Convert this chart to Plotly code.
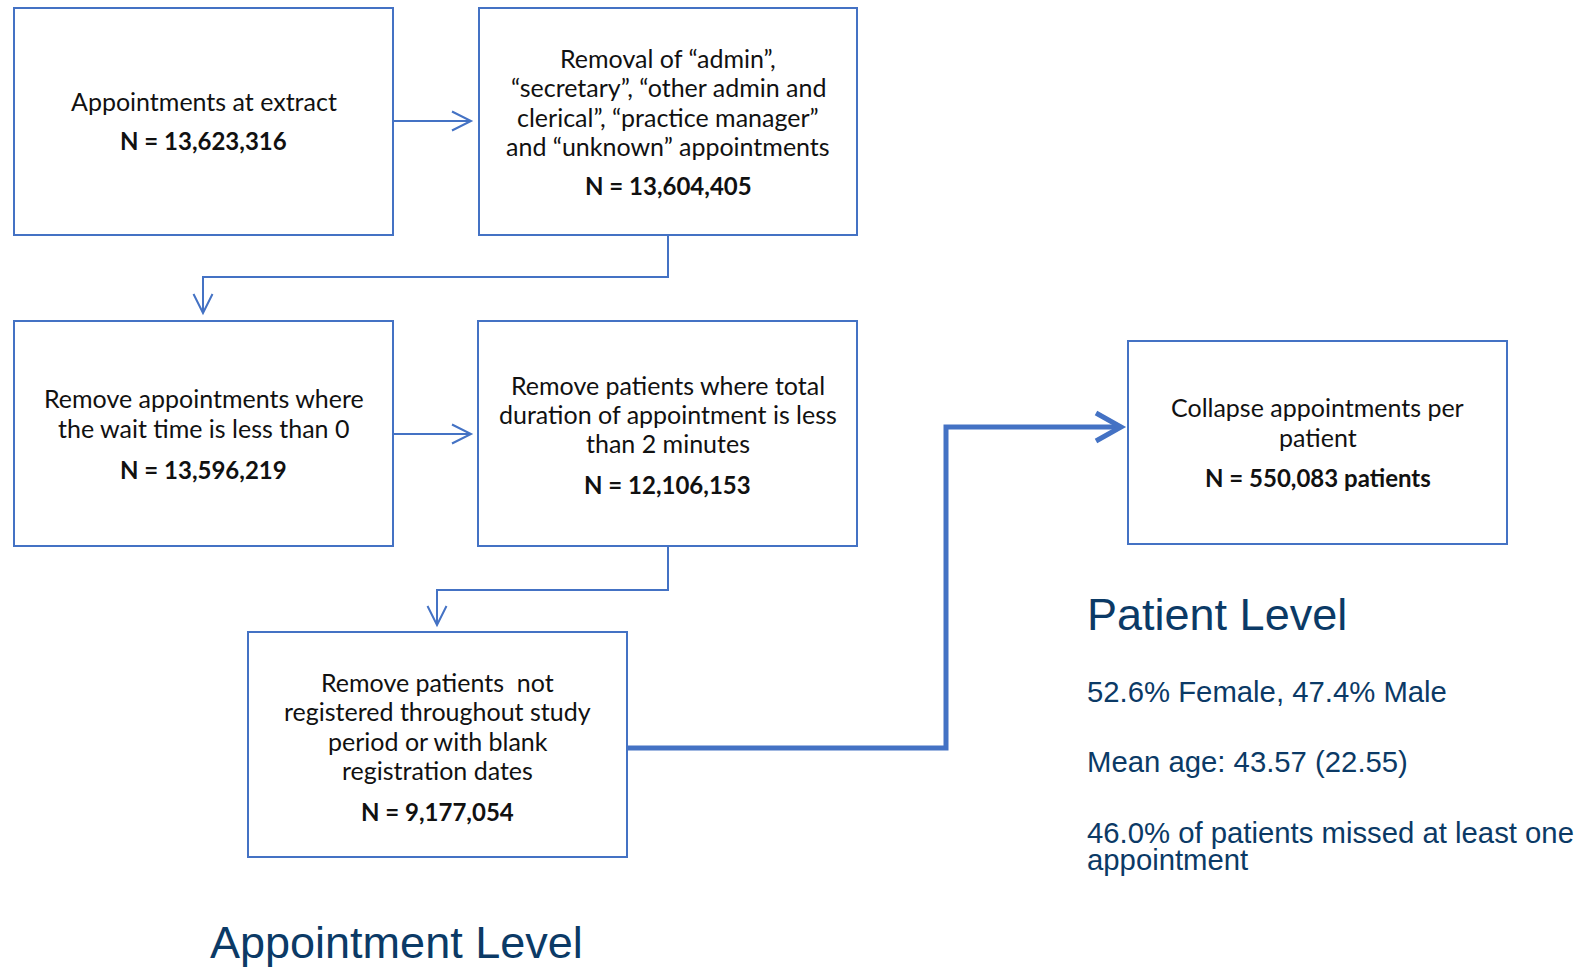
import plotly.graph_objects as go

# ---------------- data ----------------
step_text = [
    ["Appointments at extract"],
    ["Removal of “admin”,", "“secretary”, “other admin and", "clerical”, “practice manager”", "and “unknown” appointments"],
    ["Remove appointments where", "the wait time is less than 0"],
    ["Remove patients where total", "duration of appointment is less", "than 2 minutes"],
    ["Remove patients\u00a0 not", "registered throughout study", "period or with blank", "registration dates"],
    ["Collapse appointments per", "patient"],
]
step_counts = [13623316, 13604405, 13596219, 12106153, 9177054, 550083]
count_suffix = ["", "", "", "", "", " patients"]

female_pct = 52.6
male_pct = 47.4
mean_age = 43.57
sd_age = 22.55
missed_pct = 46.0

section_titles = ["Appointment Level", "Patient Level"]

# ---------------- layout geometry ----------------
W, H = 1580, 967
BLUE = "#4472C4"
NAVY = "#0b3a66"
BOX_FONT = "Lato"
BOX_SIZE = 25
BOLD_SIZE = 24

boxes = [  # x0, y0, x1, y1
    (14, 8, 393, 235),
    (479, 8, 857, 235),
    (14, 321, 393, 546),
    (478, 321, 857, 546),
    (248, 632, 627, 857),
    (1128, 341, 1507, 544),
]
text_y = [
    [101, 140.5],
    [58.4, 87.3, 116.6, 145.6, 185],
    [398, 428, 469],
    [384.7, 414, 443, 484],
    [682, 710.5, 740.5, 769.5, 811],
    [407, 436.5, 477],
]

fig = go.Figure()
fig.add_trace(go.Scatter(x=[0, W], y=[0, H], mode="markers",
                         marker=dict(opacity=0), hoverinfo="skip", showlegend=False))

shapes = []
annotations = []
for i, (x0, y0, x1, y1) in enumerate(boxes):
    shapes.append(dict(type="rect", x0=x0, y0=y0, x1=x1, y1=y1,
                       line=dict(color=BLUE, width=2), fillcolor="white", layer="below"))
    cx = (x0 + x1) / 2
    lines = step_text[i]
    for j, t in enumerate(lines):
        annotations.append(dict(x=cx, y=text_y[i][j], text=t, showarrow=False,
                                xanchor="center", yanchor="middle",
                                font=dict(family=BOX_FONT, size=BOX_SIZE, color="#111111")))
    ntxt = "<b>N = {:,}{}</b>".format(step_counts[i], count_suffix[i])
    annotations.append(dict(x=cx, y=text_y[i][len(lines)], text=ntxt, showarrow=False,
                            xanchor="center", yanchor="middle",
                            font=dict(family=BOX_FONT, size=BOLD_SIZE, color="#111111")))

def thin(path):
    shapes.append(dict(type="path", path=path, line=dict(color=BLUE, width=2)))

# box1 -> box2
thin("M 393,121 L 470,121")
thin("M 452,111.5 L 471,121 L 452,130.5")
# box2 -> box3
thin("M 668,235 L 668,277 L 203,277 L 203,312")
thin("M 193.5,294 L 203,313 L 212.5,294")
# box3 -> box4
thin("M 393,434 L 470,434")
thin("M 452,424.5 L 471,434 L 452,443.5")
# box4 -> box5
thin("M 668,546 L 668,590 L 437,590 L 437,624")
thin("M 427.5,606 L 437,625 L 446.5,606")
# box5 -> box6 (thick)
shapes.append(dict(type="path", path="M 628,748 L 946,748 L 946,427 L 1118,427",
                   line=dict(color=BLUE, width=5)))
shapes.append(dict(type="path", path="M 1096,413 L 1121,427 L 1096,441",
                   line=dict(color=BLUE, width=5)))

# section titles and stats
TFONT = "Liberation Sans, Arial, sans-serif"
annotations.append(dict(x=208, y=942, text=section_titles[0], showarrow=False,
                        xanchor="left", yanchor="middle",
                        font=dict(family=TFONT, size=45, color=NAVY)))
annotations.append(dict(x=1085, y=614, text=section_titles[1], showarrow=False,
                        xanchor="left", yanchor="middle",
                        font=dict(family=TFONT, size=45, color=NAVY)))
stats = [
    (691.5, f"{female_pct:.1f}% Female, {male_pct:.1f}% Male"),
    (761.5, f"Mean age: {mean_age:.2f} ({sd_age:.2f})"),
    (832.5, f"{missed_pct:.1f}% of patients missed at least one"),
    (859.5, "appointment"),
]
for y, t in stats:
    annotations.append(dict(x=1085, y=y, text=t, showarrow=False,
                            xanchor="left", yanchor="middle",
                            font=dict(family=TFONT, size=29.3, color=NAVY)))

fig.update_layout(
    width=W, height=H,
    margin=dict(l=0, r=0, t=0, b=0),
    paper_bgcolor="white", plot_bgcolor="white",
    xaxis=dict(range=[0, W], visible=False, fixedrange=True),
    yaxis=dict(range=[H, 0], visible=False, fixedrange=True),
    shapes=shapes, annotations=annotations,
    showlegend=False,
)
fig.write_html("out.html", config={"displayModeBar": False},
               post_script="document.body.style.margin='0';document.body.style.overflow='hidden';")
